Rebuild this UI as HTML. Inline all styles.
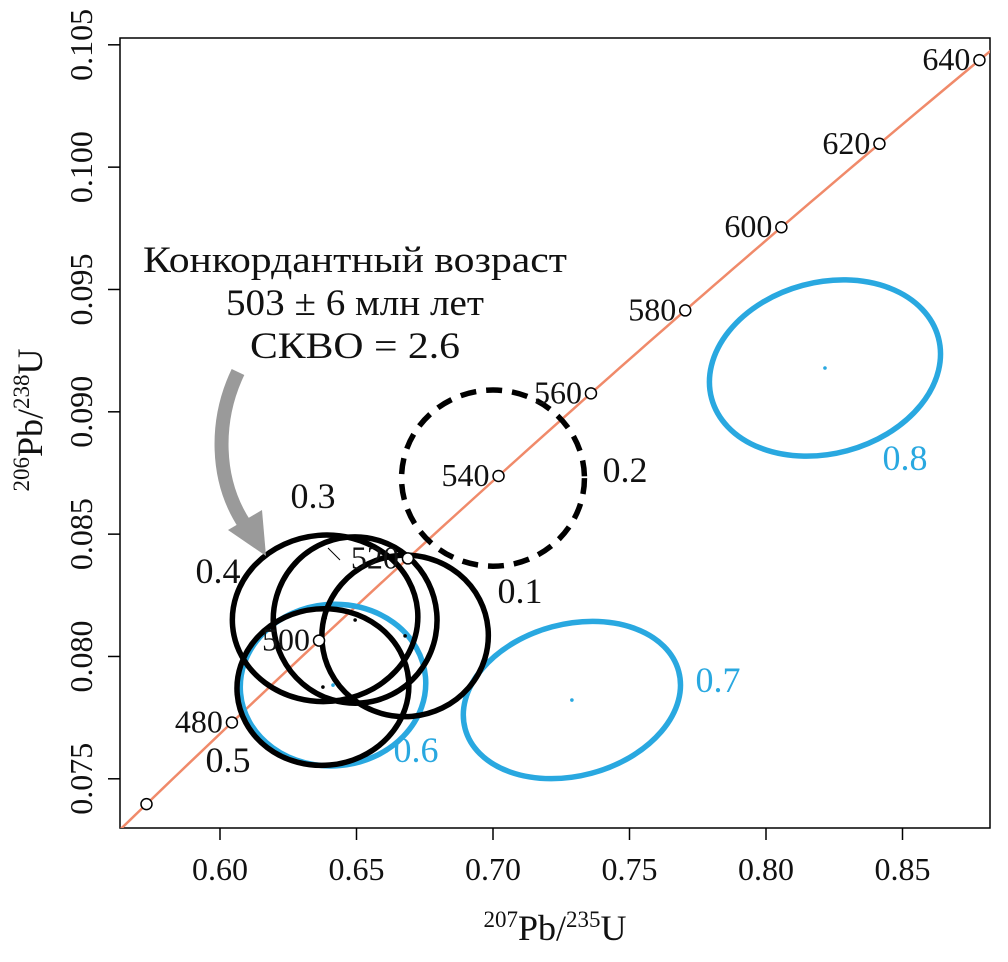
<!DOCTYPE html>
<html><head><meta charset="utf-8"><style>
body{margin:0;background:#fff}
svg text{font-family:"Liberation Serif",serif;fill:#111}
</style></head><body>
<svg id="c" width="1008" height="957"></svg>
<script>
const xTicks=[0.60,0.65,0.70,0.75,0.80,0.85];
const yTicks=[0.075,0.080,0.085,0.090,0.095,0.100,0.105];
const ages=[460,480,500,520,540,560,580,600,620,640];
const ageLabelShown=[false,true,true,true,true,true,true,true,true,true];
const ellLabels=["0.6","0.7","0.8","0.1","0.2","0.3","0.4","0.5"];
const ellCx=[0.6414,0.7289,0.8216,0.6678,0.7000,0.6495,0.6385,0.6377];
const ellCy=[0.07883,0.07822,0.09179,0.08084,0.08729,0.08149,0.08156,0.07875];
const ellRx=[0.0340,0.0405,0.0430,0.0305,0.0335,0.0300,0.0340,0.0315];
const ellRy=[0.0033,0.0031,0.0035,0.0033,0.0036,0.0034,0.0034,0.0032];
const ellRot=[-5,-15,-15,-5,0,-5,-5,-5];
const ellColor=["#29a8e0","#29a8e0","#29a8e0","#000","#000","#000","#000","#000"];
const ellDashed=[false,false,false,false,true,false,false,false];
const ellLabelPos=[[416,762],[718,692],[905,470],[520,603],[625,482],[313,508],[218,583],[228,772]];
const X=v=>220+(v-0.6)*2730, Y=v=>804-(v-0.07397)*24466;
const L=120,R=990,T=38,B=828;
const s=document.getElementById('c'),NS='http://www.w3.org/2000/svg';
function el(t,a,p){const e=document.createElementNS(NS,t);for(const k in a)e.setAttribute(k,a[k]);(p||s).appendChild(e);return e;}
const defs=el('defs',{});const cp=el('clipPath',{id:'cl'},defs);el('rect',{x:L,y:T,width:R-L,height:B-T},cp);
const frame=el('rect',{x:L,y:T,width:R-L,height:B-T,fill:'none',stroke:'#000','stroke-width':1.5});

xTicks.forEach(v=>{const x=X(v);el('line',{x1:x,y1:B,x2:x,y2:B+12,stroke:'#000','stroke-width':1.5});
 const t=el('text',{x:x,y:B+52,'text-anchor':'middle','font-size':32});t.textContent=v.toFixed(2);
 });
yTicks.forEach(v=>{const y=Y(v);el('line',{x1:L,y1:y,x2:L-12,y2:y,stroke:'#000','stroke-width':1.5});
 const t=el('text',{x:0,y:0,'text-anchor':'middle','font-size':32,transform:`translate(92,${y}) rotate(-90)`});t.textContent=v.toFixed(3);
 });
const g=el('g',{'clip-path':'url(#cl)'});
let pts=[];for(let a=440;a<=660;a+=2){pts.push(X(Math.exp(0.98485e-3*a)-1)+','+Y(Math.exp(0.155125e-3*a)-1));}
const cl=el('polyline',{points:pts.join(' '),fill:'none',stroke:'#f08a6a','stroke-width':2.5},g);

ellCx.forEach((cx,i)=>{const x=X(cx),y=Y(ellCy[i]);
 const e=el('ellipse',{cx:x,cy:y,rx:ellRx[i]*2730,ry:ellRy[i]*24466,fill:'none',stroke:ellColor[i],'stroke-width':5.5,transform:`rotate(${ellRot[i]} ${x} ${y})`},g);
 if(ellDashed[i])e.setAttribute('stroke-dasharray','16 10');
 
 if(!ellDashed[i])el('circle',{cx:x,cy:y,r:1.8,fill:ellColor[i]},g);
 const t=el('text',{x:ellLabelPos[i][0],y:ellLabelPos[i][1],'font-size':36,'text-anchor':'middle'});t.textContent=ellLabels[i];
 t.style.fill=ellColor[i]=='#000'?'#111':ellColor[i];
 });
ages.forEach((a,i)=>{const x=X(Math.exp(0.98485e-3*a)-1),y=Y(Math.exp(0.155125e-3*a)-1);
 const c=el('circle',{cx:x,cy:y,r:5.5,fill:'#fff',stroke:'#000','stroke-width':1.5});
 
 if(ageLabelShown[i]){const t=el('text',{x:x-9,y:y+10,'font-size':32,'text-anchor':'end'});t.textContent=a;
 }});
el('line',{x1:328,y1:548,x2:340,y2:560,stroke:'#000','stroke-width':1});
const ann=["Конкордантный возраст","503 ± 6 млн лет","СКВО = 2.6"],annW=[424,258,210];
ann.forEach((s2,i)=>{const t=el('text',{x:355,y:272+i*43,'font-size':37,'text-anchor':'middle',textLength:annW[i],lengthAdjust:'spacingAndGlyphs'});t.textContent=s2;
 });
const ar=el('path',{d:'M238,372 C215,420 215,480 245,525',fill:'none',stroke:'#9a9a9a','stroke-width':14});

el('polygon',{points:'228,530 266,556 262,510',fill:'#9a9a9a'});
const xl=el('text',{x:555,y:940,'font-size':36,'text-anchor':'middle'});
xl.innerHTML='<tspan font-size="23" dy="-13">207</tspan><tspan dy="13">Pb/</tspan><tspan font-size="23" dy="-13">235</tspan><tspan dy="13">U</tspan>';

const yl=el('text',{x:0,y:0,'font-size':36,'text-anchor':'middle',transform:'translate(42,420) rotate(-90)'});
yl.innerHTML='<tspan font-size="23" dy="-13">206</tspan><tspan dy="13">Pb/</tspan><tspan font-size="23" dy="-13">238</tspan><tspan dy="13">U</tspan>';

</script></body></html>
